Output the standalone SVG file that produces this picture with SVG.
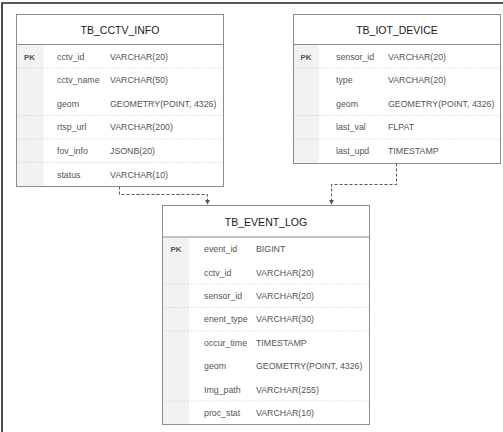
<svg xmlns="http://www.w3.org/2000/svg" width="503" height="432" viewBox="0 0 503 432">
<defs>
<style>
.box{fill:#fff;stroke:#8c8c8c;stroke-width:1}
.pkcol{fill:#f2f2f2}
.hdr{stroke:#8c8c8c;stroke-width:1.2}
.sep{stroke:#dcdcdc;stroke-width:0.8;stroke-dasharray:1.5 0.8}
.title{font-family:"Liberation Sans",Arial,sans-serif;font-size:10.5px;fill:#1a1a1a;text-anchor:middle}
.pk{font-family:"Liberation Sans",Arial,sans-serif;font-size:8px;font-weight:bold;fill:#555;text-anchor:middle}
.t{font-family:"Liberation Sans",Arial,sans-serif;font-size:8.8px;fill:#555}
.conn{fill:none;stroke:#555;stroke-width:1;stroke-dasharray:3 2}
</style>
<marker id="arr" viewBox="0 0 6 6" refX="5" refY="3" markerWidth="5" markerHeight="5" orient="auto" markerUnits="userSpaceOnUse">
<path d="M0,0 L6,3 L0,6 Z" fill="#555"/>
</marker>
</defs>
<rect width="503" height="432" fill="#fff"/>
<path d="M2,432 V3 H503" fill="none" stroke="#222" stroke-width="1.6"/>

<g id="connectors">
<path class="conn" d="M119.5,186.5 V194.5 H207.5 V204" marker-end="url(#arr)"/>
<path class="conn" d="M396.5,163.5 V184.5 H331.5 V204" marker-end="url(#arr)"/>
</g>

<g id="TB_CCTV_INFO">
<rect class="box" x="16.5" y="14.5" width="207" height="172"/>
<rect class="pkcol" x="17" y="44.5" width="26.5" height="141.5"/>
<line class="hdr" x1="16.5" y1="44.5" x2="223.5" y2="44.5"/>
<line class="sep" x1="17" y1="68" x2="223" y2="68"/>
<line class="sep" x1="17" y1="115.5" x2="223" y2="115.5"/>
<line class="sep" x1="17" y1="139" x2="223" y2="139"/>
<line class="sep" x1="17" y1="162.5" x2="223" y2="162.5"/>
<text class="title" x="120" y="33.5">TB_CCTV_INFO</text>
<text class="pk" x="29.5" y="59.5">PK</text>
<text class="t" x="57" y="59.5">cctv_id</text><text class="t" x="110" y="59.5">VARCHAR(20)</text>
<text class="t" x="57" y="83">cctv_name</text><text class="t" x="110" y="83">VARCHAR(50)</text>
<text class="t" x="57" y="106.5">geom</text><text class="t" x="110" y="106.5">GEOMETRY(POINT, 4326)</text>
<text class="t" x="57" y="130">rtsp_url</text><text class="t" x="110" y="130">VARCHAR(200)</text>
<text class="t" x="57" y="154">fov_info</text><text class="t" x="110" y="154">JSONB(20)</text>
<text class="t" x="57" y="177.5">status</text><text class="t" x="110" y="177.5">VARCHAR(10)</text>
</g>

<g id="TB_IOT_DEVICE">
<rect class="box" x="293.5" y="14.5" width="207" height="149"/>
<rect class="pkcol" x="294" y="44.5" width="25" height="118.5"/>
<line class="hdr" x1="293.5" y1="44.5" x2="500.5" y2="44.5"/>
<line class="sep" x1="294" y1="68" x2="500" y2="68"/>
<line class="sep" x1="294" y1="115.5" x2="500" y2="115.5"/>
<line class="sep" x1="294" y1="139" x2="500" y2="139"/>
<text class="title" x="397" y="33.5">TB_IOT_DEVICE</text>
<text class="pk" x="306" y="59.5">PK</text>
<text class="t" x="336" y="59.5">sensor_id</text><text class="t" x="388" y="59.5">VARCHAR(20)</text>
<text class="t" x="336" y="83">type</text><text class="t" x="388" y="83">VARCHAR(20)</text>
<text class="t" x="336" y="106.5">geom</text><text class="t" x="388" y="106.5">GEOMETRY(POINT, 4326)</text>
<text class="t" x="336" y="130">last_val</text><text class="t" x="388" y="130">FLPAT</text>
<text class="t" x="336" y="154">last_upd</text><text class="t" x="388" y="154">TIMESTAMP</text>
</g>

<g id="TB_EVENT_LOG">
<rect class="box" x="162.5" y="205.5" width="207" height="219"/>
<rect class="pkcol" x="163" y="237" width="26" height="187"/>
<line class="hdr" x1="162.5" y1="237" x2="369.5" y2="237"/>
<line class="sep" x1="163" y1="284" x2="369" y2="284"/>
<line class="sep" x1="163" y1="307.5" x2="369" y2="307.5"/>
<line class="sep" x1="163" y1="331" x2="369" y2="331"/>
<line class="sep" x1="163" y1="401" x2="369" y2="401"/>
<text class="title" x="266" y="225.5">TB_EVENT_LOG</text>
<text class="pk" x="176" y="252">PK</text>
<text class="t" x="204" y="252">event_id</text><text class="t" x="256" y="252">BIGINT</text>
<text class="t" x="204" y="275.5">cctv_id</text><text class="t" x="256" y="275.5">VARCHAR(20)</text>
<text class="t" x="204" y="299">sensor_id</text><text class="t" x="256" y="299">VARCHAR(20)</text>
<text class="t" x="204" y="322">enent_type</text><text class="t" x="256" y="322">VARCHAR(30)</text>
<text class="t" x="204" y="345.5">occur_time</text><text class="t" x="256" y="345.5">TIMESTAMP</text>
<text class="t" x="204" y="369">geom</text><text class="t" x="256" y="369">GEOMETRY(POINT, 4326)</text>
<text class="t" x="204" y="392.5">Img_path</text><text class="t" x="256" y="392.5">VARCHAR(255)</text>
<text class="t" x="204" y="416">proc_stat</text><text class="t" x="256" y="416">VARCHAR(10)</text>
</g>
</svg>
